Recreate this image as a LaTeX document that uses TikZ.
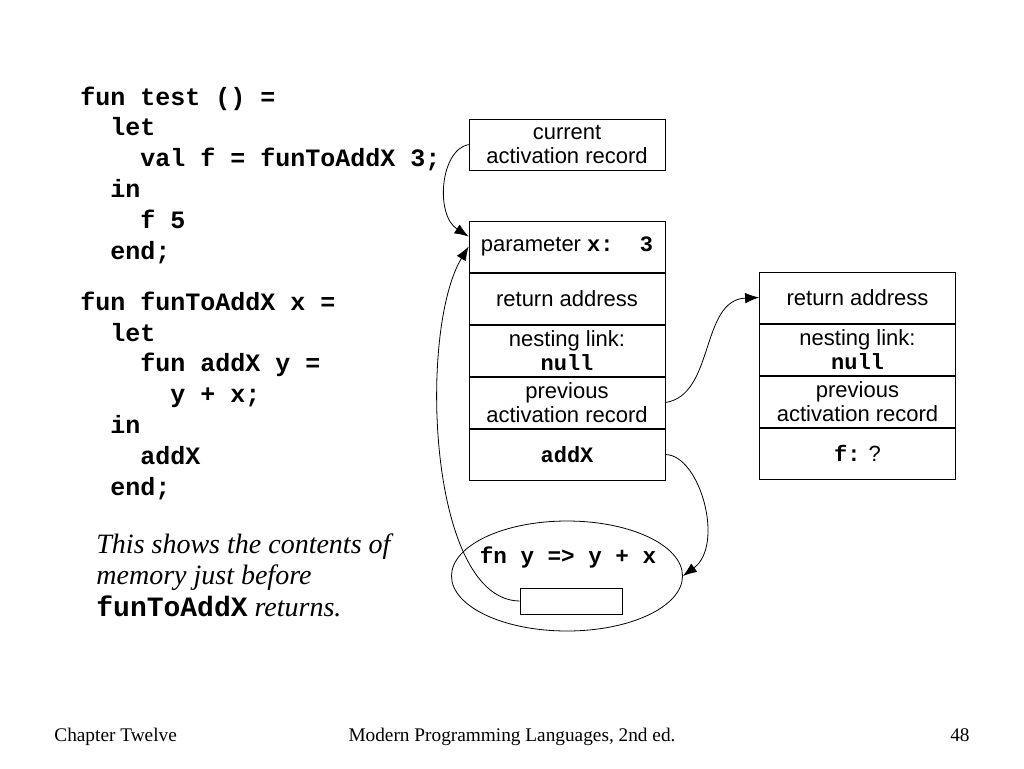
\documentclass[tikz,border=0pt]{standalone}
\usepackage{fontspec}
\setmainfont{Liberation Serif}
\setsansfont{Liberation Sans}
\setmonofont{Liberation Mono}
\usetikzlibrary{shapes.geometric,positioning,arrows.meta}

\newcommand{\codeind}[1]{\hspace*{#1em}}

\begin{document}
\begin{tikzpicture}[x=1pt,y=-1pt,line width=0.8pt,node distance=0pt,
    cell/.style={draw,rectangle,minimum width=196pt,minimum height=51.2pt,inner sep=0pt,
                 font=\sffamily\fontsize{22}{24}\selectfont},
    twoline/.style={cell,align=center},
    code/.style={align=left,inner sep=0pt,font=\ttfamily\bfseries\fontsize{25}{30.8}\selectfont},
    foot/.style={inner sep=0pt,font=\rmfamily\fontsize{19.3}{22}\selectfont},
    link/.style={->,>={Latex[length=14pt,width=10.5pt]}}]

  \useasboundingbox (0,0) rectangle (1024,768);

  % program text (base = last line)
  \node[code,anchor=base west] (test) at (80,259) {fun test () =\\
    \codeind{1.2}let\\
    \codeind{2.4}val f = funToAddX 3;\\
    \codeind{1.2}in\\
    \codeind{2.4}f 5\\
    \codeind{1.2}end;};
  \node[code,anchor=base west] (adder) at (80,495) {fun funToAddX x =\\
    \codeind{1.2}let\\
    \codeind{2.4}fun addX y =\\
    \codeind{3.6}y + x;\\
    \codeind{1.2}in\\
    \codeind{2.4}addX\\
    \codeind{1.2}end;};
  \node[anchor=base west,align=left,inner sep=0pt,font=\itshape\fontsize{28}{31.5}\selectfont]
    (note) at (96,616) {This shows the contents of\\memory just before\\
    {\upshape\ttfamily\bfseries funToAddX} returns.};

  % activation records
  \node[twoline] (cur) at (567,144.5) {current\\activation record};
  \node[cell] (param) at (567,246.5) {parameter \texttt{\bfseries x:~~3}};
  \node[cell,below=of param] (ret) {return address};
  \node[twoline,below=of ret] (nest) {nesting link:\\\texttt{\bfseries null}};
  \node[twoline,below=of nest] (prev) {previous\\activation record};
  \node[cell,below=of prev] (addx) {\texttt{\bfseries addX}};

  \node[cell] (ret2) at (857.5,297.5) {return address};
  \node[twoline,below=of ret2] (nest2) {nesting link:\\\texttt{\bfseries null}};
  \node[twoline,below=of nest2] (prev2) {previous\\activation record};
  \node[cell,below=of prev2] (fval) {\texttt{\bfseries f:} ?};

  % closure
  \node[draw,ellipse,minimum width=231pt,minimum height=110pt,inner sep=0pt] (clos) at (567,576) {};
  \node[code,font=\ttfamily\bfseries\fontsize{22.6}{26}\selectfont] (body) at (568,557) {fn y => y + x};
  \node[draw,minimum width=102pt,minimum height=26pt,inner sep=0pt] (envp) at (571,601) {};

  \draw[link] (cur.west) .. controls (440,150) and (435,215) .. ([yshift=10pt]param.west);
  \draw[link] (envp.west) .. controls (428,600) and (418,330) .. (param.west);
  \draw[link] (prev.east) .. controls (715,395) and (700,300) .. (ret2.west);
  \draw[link] (addx.east) .. controls (700,455) and (725,545) .. (clos.east);

  % footer
  \node[foot,anchor=base west] (chap) at (54,741) {Chapter Twelve};
  \node[foot,anchor=base] (book) at (512,741) {Modern Programming Languages, 2nd ed.};
  \node[foot,anchor=base east] (page) at (970,741) {48};
\end{tikzpicture}
\end{document}
